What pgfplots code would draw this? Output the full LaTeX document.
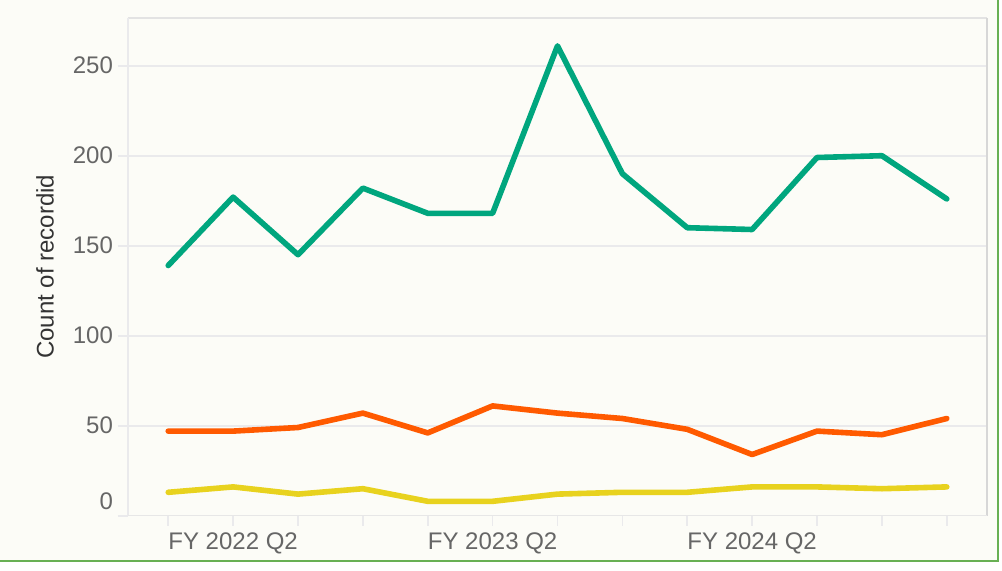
\documentclass[border=0pt]{standalone}
\usepackage{fontspec}
\setmainfont{Liberation Sans}
\usepackage{pgfplots}
\pgfplotsset{compat=1.18}
\definecolor{bgc}{RGB}{252,252,247}
\definecolor{framec}{RGB}{104,176,84}
\definecolor{cgreen}{RGB}{0,166,126}
\definecolor{corange}{RGB}{255,90,0}
\definecolor{cyellow}{RGB}{232,210,30}
\definecolor{gridc}{RGB}{234,234,236}
\definecolor{tickc}{RGB}{102,102,102}
\definecolor{axc}{RGB}{215,215,215}
\begin{document}
\begin{tikzpicture}
\useasboundingbox (0,0) rectangle (501pt,285pt);
\fill[bgc] (0,4.5pt) rectangle (499pt,285pt);
\draw[framec, line width=1pt] (0,4.5pt) -- (499pt,4.5pt) -- (499pt,285pt);
\begin{axis}[
  at={(64pt,27.15pt)}, anchor=south west,
  scale only axis, width=429.5pt, height=248.85pt,
  xmin=-0.62, xmax=12.62, ymin=0, ymax=276.5,
  axis line style={draw=none},
  xtick={0,...,12},
  xticklabels={,FY 2022 Q2,,,,FY 2023 Q2,,,,FY 2024 Q2,,,},
  ytick={50,100,150,200,250},
  extra y ticks={0},
  extra y tick labels={0},
  extra y tick style={grid=none, yticklabel style={yshift=7pt}},
  ymajorgrids,
  grid style={gridc, line width=0.8pt},
  tick align=outside,
  major tick length=5pt,
  tick style={gridc, line width=0.8pt},
  xtick pos=bottom, ytick pos=left,
  yticklabel style={xshift=1pt},
  /pgf/number format/assume math mode=true,
  tick label style={font=\fontsize{12}{14}\selectfont, text=tickc},
  ylabel={Count of recordid},
  every axis y label/.style={at={(axis description cs:-0.0966,0.5)}, rotate=90, anchor=center, font=\fontsize{12}{14}\selectfont, text={black!80}},
  clip=false,
]
\draw[axc!70, line width=0.6pt] (rel axis cs:0,1) -- (rel axis cs:1,1);
\draw[gridc, line width=0.6pt] (rel axis cs:0,0) -- (rel axis cs:0,1);
\draw[axc, line width=0.75pt] (rel axis cs:1,0) -- (rel axis cs:1,1);
\draw[axc!60, line width=0.6pt] (rel axis cs:0,0) -- (rel axis cs:1,0);
\addplot[cgreen, line width=2.8pt, line join=round, line cap=round] coordinates {
(0,139) (1,177) (2,145) (3,182) (4,168) (5,168) (6,261) (7,190) (8,160) (9,159) (10,199) (11,200) (12,176)};
\addplot[corange, line width=2.8pt, line join=round, line cap=round] coordinates {
(0,47) (1,47) (2,49) (3,57) (4,46) (5,61) (6,57) (7,54) (8,48) (9,34) (10,47) (11,45) (12,54)};
\addplot[cyellow, line width=2.8pt, line join=round, line cap=round] coordinates {
(0,13) (1,16) (2,12) (3,15) (4,8) (5,8) (6,12) (7,13) (8,13) (9,16) (10,16) (11,15) (12,16)};
\end{axis}
\end{tikzpicture}
\end{document}
